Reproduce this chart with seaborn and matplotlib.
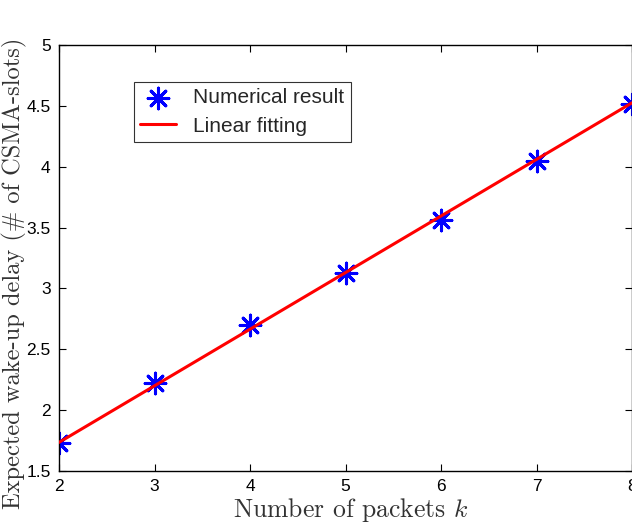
import numpy as np
import pandas as pd
import seaborn as sns
import matplotlib
matplotlib.use("Agg")
import matplotlib.pyplot as plt

# Expected wake-up delay versus number of packets
packets = [2, 3, 4, 5, 6, 7, 8]
delay = [1.73, 2.225, 2.70, 3.13, 3.565, 4.05, 4.515]

# Linear fit endpoints
fit_x = [2, 8]
fit_y = [1.735, 4.525]

xticks = [2, 3, 4, 5, 6, 7, 8]
yticks = [1.5, 2, 2.5, 3, 3.5, 4, 4.5, 5]

sns.set_theme(style="white")
plt.rcParams["font.family"] = ["Liberation Sans", "DejaVu Sans"]
plt.rcParams["mathtext.fontset"] = "cm"

df = pd.DataFrame({"k": packets, "delay": delay})
df_fit = pd.DataFrame({"k": fit_x, "delay": fit_y})

fig = plt.figure(figsize=(6.32, 5.25), dpi=100)
ax = fig.add_axes([59 / 632, 54 / 525, 1 - 59 / 632, 426 / 525])

sns.scatterplot(data=df, x="k", y="delay", ax=ax, marker=(8, 2, 0), s=220,
                color="#0000ff", linewidth=2.2, edgecolor="#0000ff",
                label="Numerical result", zorder=2)
sns.lineplot(data=df_fit, x="k", y="delay", ax=ax, color="#ff0000",
             linewidth=2.2, label="Linear fitting", zorder=3)

ax.set_xlim(2, 8)
ax.set_ylim(1.5, 5)
ax.set_xticks(xticks)
ax.set_yticks(yticks)
ax.set_xticklabels([str(t) for t in xticks])
ax.set_yticklabels([f"{t:g}" for t in yticks])
ax.tick_params(direction="in", length=5, width=0.8, top=True, right=True,
               bottom=True, left=True, labelsize=12.5, colors="black", pad=6)
for s in ax.spines.values():
    s.set_color("black")
    s.set_linewidth(1.0)

serif = ["cmr10", "DejaVu Serif"]
ax.set_xlabel(r"Number of packets $k$", fontsize=18.5, family=serif,
              color="#333333")
ax.xaxis.set_label_coords(0.51, -0.058)
ax.set_ylabel("Expected wake-up delay (# of CSMA-slots)", fontsize=17.6,
              family=serif, color="#333333")
ax.yaxis.set_label_coords(-0.055, 0.463)

leg = ax.legend(loc="upper left", bbox_to_anchor=(0.131, 0.913),
                fontsize=15, frameon=True, fancybox=False, borderpad=0.3,
                handlelength=1.7, handletextpad=0.85, labelspacing=0.45,
                borderaxespad=0)
leg.get_frame().set_edgecolor("black")
leg.get_frame().set_linewidth(0.8)

fig.savefig("out.png", dpi=100)
